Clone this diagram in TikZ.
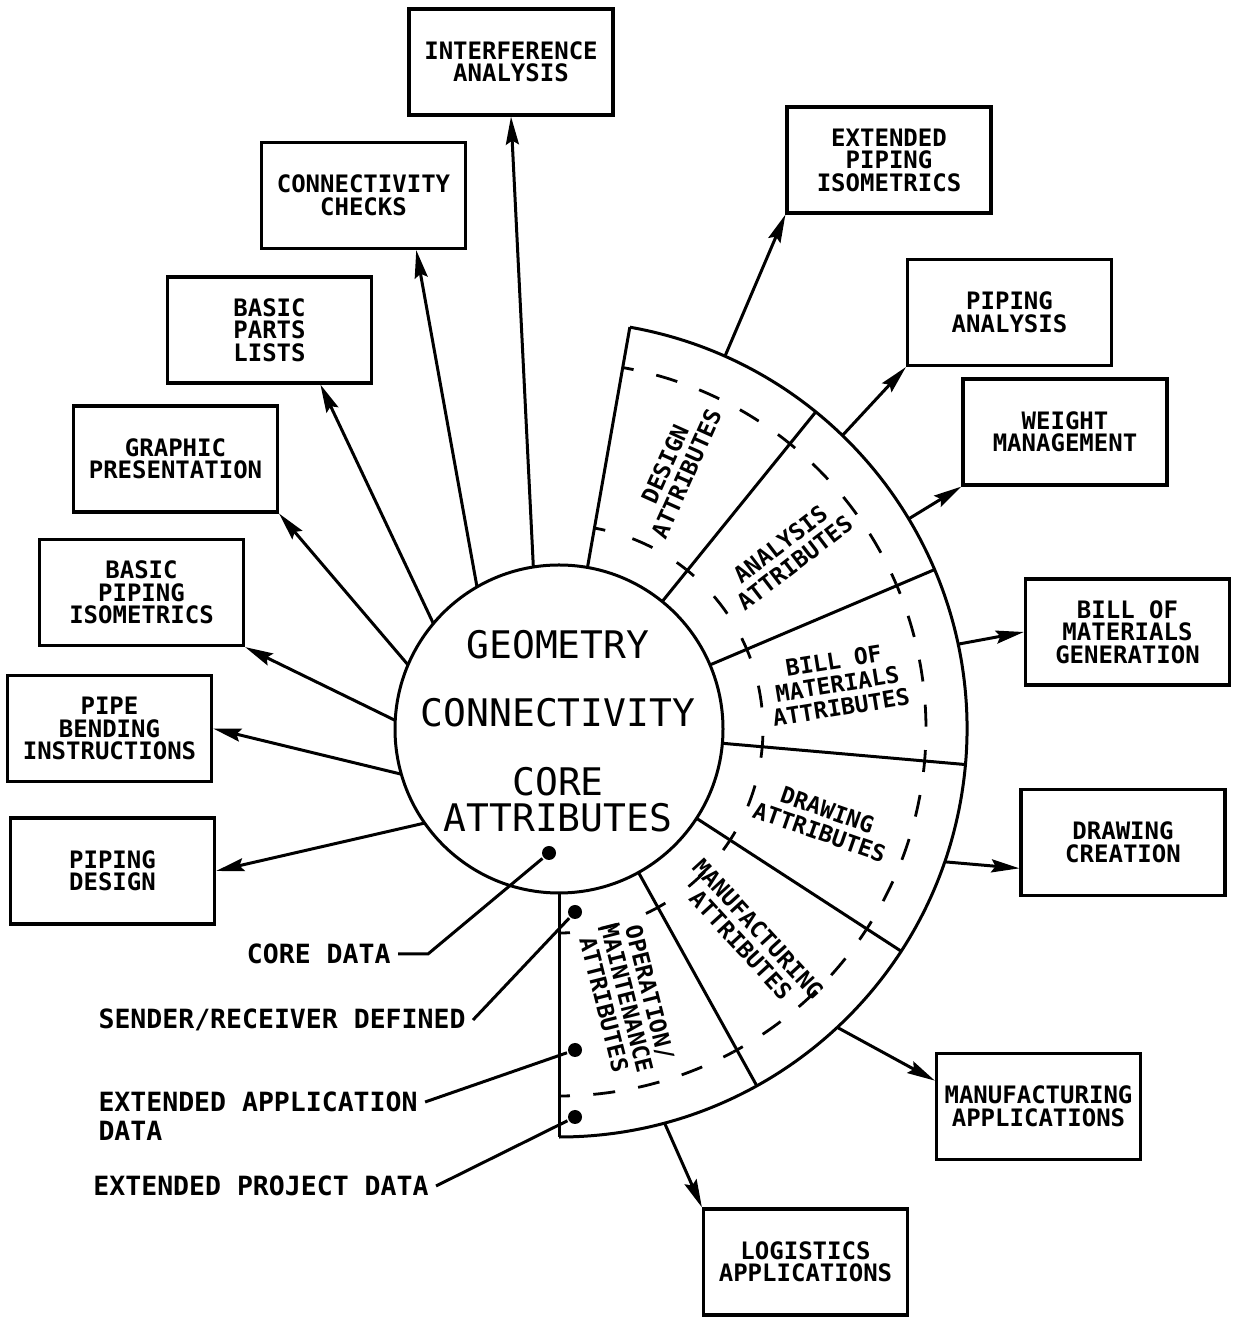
\documentclass[tikz,border=0pt]{standalone}
\usepackage{fontspec}
\setmainfont{DejaVu Sans Mono}
\usepackage{tikz}
\usetikzlibrary{shapes}
\usetikzlibrary{arrows.meta}
\usetikzlibrary{positioning}

\begin{document}
\begin{tikzpicture}
                [x=1pt, y=1pt, line width=3pt,
                 box/.style={rectangle, draw, line width=3.2pt, minimum width=204pt, minimum height=106pt, inner sep=0pt, align=center, font=\fontsize{24}{22.5}\selectfont\bfseries},
                 seglabel/.style={inner sep=0pt, align=center, font=\fontsize{23}{23.5}\selectfont\bfseries},
                 coretext/.style={inner sep=0pt, align=center, font=\fontsize{38}{36}\selectfont},
                 leftlabel/.style={inner sep=0pt, inner xsep=6pt, font=\fontsize{26.5}{25}\selectfont\bfseries},
                 dot/.style={circle, fill, inner sep=0pt, minimum size=14pt},
                 outerdash/.style={line width=2.8pt, dash pattern=on 22pt off 23.37pt, dash phase=11pt},
                 innerdash/.style={line width=2.8pt, dash pattern=on 22pt off 28.44pt, dash phase=11pt},
                 arrow/.style={-{Stealth[length=28pt, width=13pt, inset=4pt]}}]
                \useasboundingbox (0,0) rectangle (1239,1317);
                \coordinate (c) at (559,588);
                \node (core) [circle, draw, minimum size=328pt, inner sep=0pt, outer sep=0pt] at (c) { };
                \node (rim) [circle, minimum size=816pt, inner sep=0pt, outer sep=0pt] at (c) { };
                \node (geometry) [coretext] at (558,672) {GEOMETRY};
                \node (connectivity) [coretext] at (558,604) {CONNECTIVITY};
                \node (coreattr) [coretext] at (558,517) {CORE\\ATTRIBUTES};
                % attribute sectors
                \draw (rim.80) arc (80:-90:408);
                \draw (core.80) -- (rim.80);
                \draw (core.51.67) -- (rim.51.67);
                \draw (core.23.33) -- (rim.23.33);
                \draw (core.-5) -- (rim.-5);
                \draw (core.-33.33) -- (rim.-33.33);
                \draw (core.-61.67) -- (rim.-61.67);
                \draw (core.-90) -- (rim.-90);
                \draw [outerdash] ([shift={(c)}]80:367) arc (80:51.67:367);
                \draw [outerdash] ([shift={(c)}]51.67:367) arc (51.67:23.33:367);
                \draw [outerdash] ([shift={(c)}]23.33:367) arc (23.33:-5:367);
                \draw [outerdash] ([shift={(c)}]-5:367) arc (-5:-33.33:367);
                \draw [outerdash] ([shift={(c)}]-33.33:367) arc (-33.33:-61.67:367);
                \draw [outerdash] ([shift={(c)}]-61.67:367) arc (-61.67:-90:367);
                \draw [innerdash] ([shift={(c)}]80:204) arc (80:51.67:204);
                \draw [innerdash] ([shift={(c)}]51.67:204) arc (51.67:23.33:204);
                \draw [innerdash] ([shift={(c)}]23.33:204) arc (23.33:-5:204);
                \draw [innerdash] ([shift={(c)}]-5:204) arc (-5:-33.33:204);
                \draw [innerdash] ([shift={(c)}]-33.33:204) arc (-33.33:-61.67:204);
                \draw [innerdash] ([shift={(c)}]-61.67:204) arc (-61.67:-90:204);
                \node (design) [seglabel, rotate=65.83] at ([shift={(c)}]65.83:285) {DESIGN\\ATTRIBUTES};
                \node (analysis) [seglabel, rotate=37.5] at ([shift={(c)}]37.5:288) {ANALYSIS\\ATTRIBUTES};
                \node (bom) [seglabel, rotate=9.17] at ([shift={(c)}]9.17:282) {BILL OF\\MATERIALS\\ATTRIBUTES};
                \node (drawing) [seglabel, rotate=-19.17] at ([shift={(c)}]-19.17:280) {DRAWING\\ATTRIBUTES};
                \node (mfg) [seglabel, rotate=-47.5] at ([shift={(c)}]-47.5:282) {MANUFACTURING\\ATTRIBUTES};
                \node (oper) [seglabel, rotate=-75.83] at ([shift={(c)}]-75.83:278) {OPERATION/\\MAINTENANCE\\ATTRIBUTES};
                % application boxes
                \node (interf) [box] at (511,1255) {INTERFERENCE\\ANALYSIS};
                \node (extiso) [box] at (889,1157) {EXTENDED\\PIPING\\ISOMETRICS};
                \node (conncheck) [box] at (363.5,1121.5) {CONNECTIVITY\\CHECKS};
                \node (pipan) [box] at (1009.5,1004.5) {PIPING\\ANALYSIS};
                \node (parts) [box] at (269.5,987) {BASIC\\PARTS\\LISTS};
                \node (weight) [box] at (1065,885) {WEIGHT\\MANAGEMENT};
                \node (graphic) [box] at (175.5,858) {GRAPHIC\\PRESENTATION};
                \node (basiciso) [box] at (141.5,724.5) {BASIC\\PIPING\\ISOMETRICS};
                \node (bomgen) [box] at (1127.5,685) {BILL OF\\MATERIALS\\GENERATION};
                \node (pipebend) [box] at (109.5,588.5) {PIPE\\BENDING\\INSTRUCTIONS};
                \node (pipdes) [box] at (112.5,446) {PIPING\\DESIGN};
                \node (drawcr) [box] at (1123,474.5) {DRAWING\\CREATION};
                \node (mfgapp) [box] at (1038.5,210.5) {MANUFACTURING\\APPLICATIONS};
                \node (logist) [box] at (805.5,55) {LOGISTICS\\APPLICATIONS};
                \draw [arrow] (core.99) -- (interf.south);
                \draw [arrow] (core.120) -- (conncheck.-46);
                \draw [arrow] (core.140) -- (parts.-47);
                \draw [arrow] (core.157) -- (graphic.south east);
                \draw [arrow] (core.177) -- (basiciso.south east);
                \draw [arrow] (core.196) -- (pipebend.east);
                \draw [arrow] (core.215) -- (pipdes.east);
                \draw [arrow] (rim.66) -- (extiso.south west);
                \draw [arrow] (rim.46) -- (pipan.south west);
                \draw [arrow] (rim.31) -- (weight.south west);
                \draw [arrow] (rim.12) -- (bomgen.west);
                \draw [arrow] (rim.-19) -- (drawcr.194);
                \draw [arrow] (rim.-47.5) -- (mfgapp.166);
                \draw [arrow] (rim.-75.5) -- (logist.north west);
                % data labels
                \node (dcore) [dot] at (549,464) { };
                \node (dsend) [dot] at (575,405) { };
                \node (dapp) [dot] at (575,267) { };
                \node (dproj) [dot] at (575,200) { };
                \node (lblcore) [leftlabel, anchor=east] at (398,363) {CORE DATA};
                \node (lblsend) [leftlabel, anchor=east] at (473,297) {SENDER/RECEIVER DEFINED};
                \node (lblapp) [leftlabel, anchor=west] at (91,215) {EXTENDED APPLICATION};
                \node (lbldata) [leftlabel, below=6pt of lblapp.south west, anchor=north west] {DATA};
                \node (lblproj) [leftlabel, anchor=east] at (436,131) {EXTENDED PROJECT DATA};
                \draw (lblcore.east) -- ++(30,0) -- (dcore);
                \draw (lblsend.east) -- (dsend);
                \draw (lblapp.east) -- (dapp);
                \draw (lblproj.east) -- (dproj);
            \end{tikzpicture}
\end{document}
